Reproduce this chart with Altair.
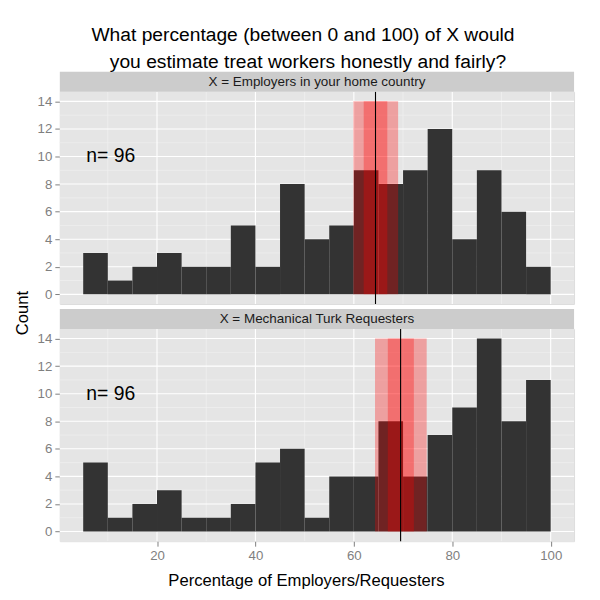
import altair as alt
import pandas as pd

# ---------------- data ----------------
title_lines = [
    "What percentage (between 0 and 100) of X would",
    "you estimate treat workers honestly and fairly?",
]
panel_labels = ["X = Employers in your home country", "X = Mechanical Turk Requesters"]

bin_start = [5, 10, 15, 20, 25, 30, 35, 40, 45, 50, 55, 60, 65, 70, 75, 80, 85, 90, 95]
bin_end = [10, 15, 20, 25, 30, 35, 40, 45, 50, 55, 60, 65, 70, 75, 80, 85, 90, 95, 100]
counts_home = [3, 1, 2, 3, 2, 2, 5, 2, 8, 4, 5, 9, 8, 9, 12, 4, 9, 6, 2]
counts_mturk = [5, 1, 2, 3, 1, 1, 2, 5, 6, 1, 4, 4, 8, 4, 7, 9, 14, 8, 11]

mean_vals = [64.4, 69.5]
inner_lo = [62.0, 66.9]
inner_hi = [66.8, 72.2]
outer_lo = [59.9, 64.3]
outer_hi = [69.0, 74.8]
band_top = 14

n_label = "n= 96"
n_x = 10.6
n_y = 10

x_ticks = [20, 40, 60, 80, 100]
x_minor = [10, 30, 50, 70, 90]
y_ticks = [0, 2, 4, 6, 8, 10, 12, 14]
y_minor = [1, 3, 5, 7, 9, 11, 13]
x_domain = [0.25, 104.75]
y_domain = [-0.7, 14.7]

x_title = "Percentage of Employers/Requesters"
y_title = "Count"

# ---------------- layout / style ----------------
W, H = 516, 213
FONT = "Liberation Sans"
GREY = "#7F7F7F"

xs = alt.Scale(domain=x_domain, nice=False, zero=False)
ys = alt.Scale(domain=y_domain, nice=False, zero=False)

y_axis = alt.Axis(values=y_ticks, grid=False, domain=False, ticks=True,
                  tickColor=GREY, tickSize=5, tickWidth=1,
                  labelColor=GREY, labelFontSize=13.3, labelFont=FONT,
                  labelPadding=3, title=None)


def panel(idx, counts, show_x):
    if show_x:
        x_axis = alt.Axis(values=x_ticks, grid=False, domain=False,
                          tickColor=GREY, tickSize=5, tickWidth=1,
                          labelColor=GREY, labelFontSize=13.3, labelFont=FONT,
                          labelPadding=2, title=x_title, titleFont=FONT,
                          titleFontSize=16.7, titleFontWeight="normal",
                          titleColor="black", titleX=247, titleY=44,
                          titleBaseline="alphabetic", titleAlign="center")
    else:
        x_axis = None

    def X(f):
        return alt.X(f, type="quantitative", scale=xs, axis=x_axis)

    def Y(f):
        return alt.Y(f, type="quantitative", scale=ys, axis=y_axis)

    bg = alt.Chart(pd.DataFrame({"p": [panel_labels[idx]]})).mark_rect(
        color="#E5E5E5").encode(
        x=alt.value(0), x2=alt.value(W), y=alt.value(0), y2=alt.value(H))

    minor_v = alt.Chart(pd.DataFrame({"v": x_minor})).mark_rule(
        color="#F2F2F2", strokeWidth=0.6).encode(x=X("v"))
    minor_h = alt.Chart(pd.DataFrame({"v": y_minor})).mark_rule(
        color="#F2F2F2", strokeWidth=0.6).encode(y=Y("v"))
    major_v = alt.Chart(pd.DataFrame({"v": x_ticks})).mark_rule(
        color="white", strokeWidth=1.1).encode(x=X("v"))
    major_h = alt.Chart(pd.DataFrame({"v": y_ticks})).mark_rule(
        color="white", strokeWidth=1.1).encode(y=Y("v"))

    bars_df = pd.DataFrame({"start": bin_start, "end": bin_end, "count": counts})
    bars = alt.Chart(bars_df).mark_rect(color="#333333").encode(
        x=X("start"), x2="end", y=Y("count"), y2=alt.datum(0))

    band_df = pd.DataFrame({"lo": [outer_lo[idx], inner_lo[idx]],
                            "hi": [outer_hi[idx], inner_hi[idx]]})
    bands = alt.Chart(band_df).mark_rect(color="#FF0000", opacity=0.3).encode(
        x=X("lo"), x2="hi", y=alt.Y(datum=band_top, scale=ys, axis=y_axis),
        y2=alt.datum(0))

    vline = alt.Chart(pd.DataFrame({"m": [mean_vals[idx]]})).mark_rule(
        color="black", strokeWidth=1.1).encode(x=X("m"))

    ntext = alt.Chart(pd.DataFrame({"x": [n_x], "y": [n_y], "t": [n_label]})).mark_text(
        font=FONT, fontSize=19.4, color="black", align="center", baseline="middle"
    ).encode(x=X("x"), y=Y("y"), text="t:N")

    strip_df = pd.DataFrame({"label": [panel_labels[idx]]})
    strip = alt.Chart(strip_df).mark_rect(color="#CCCCCC").encode(
        x=alt.value(0), x2=alt.value(W), y=alt.value(-20), y2=alt.value(0))
    strip_text = alt.Chart(strip_df).mark_text(
        font=FONT, fontSize=13.5, color="#1A1A1A", align="center", baseline="middle"
    ).encode(x=alt.value(W / 2), y=alt.value(-10), text="label:N")

    layers = [bg, minor_v, minor_h, major_v, major_h, bars, bands, vline, ntext,
              strip, strip_text]

    if idx == 0:
        frame = alt.Chart(pd.DataFrame({"f": [0]})).mark_rect(
            fill="white", fillOpacity=0, strokeOpacity=0).encode(
            x=alt.value(-51), x2=alt.value(533), y=alt.value(-82), y2=alt.value(502))
        t1 = alt.Chart(pd.DataFrame({"t": [title_lines[0]]})).mark_text(
            font=FONT, fontSize=19.3, color="black", align="center", baseline="alphabetic"
        ).encode(x=alt.value(244), y=alt.value(-50.7), text="t:N")
        t2 = alt.Chart(pd.DataFrame({"t": [title_lines[1]]})).mark_text(
            font=FONT, fontSize=19.3, color="black", align="center", baseline="alphabetic"
        ).encode(x=alt.value(249), y=alt.value(-23.5), text="t:N")
        ytitle = alt.Chart(pd.DataFrame({"t": [y_title]})).mark_text(
            font=FONT, fontSize=16.7, color="black", align="center", baseline="middle",
            angle=270
        ).encode(x=alt.value(-37), y=alt.value(222), text="t:N")
        layers = [frame] + layers + [t1, t2, ytitle]

    return alt.layer(*layers).properties(width=W, height=H)


top = panel(0, counts_home, False)
bottom = panel(1, counts_mturk, True)

chart = alt.vconcat(top, bottom, spacing=25, bounds="flush").properties(
    padding=0
).configure_view(stroke=None).configure(background="white")

chart.save("out.html", embed_options={"renderer": "svg", "actions": False})
